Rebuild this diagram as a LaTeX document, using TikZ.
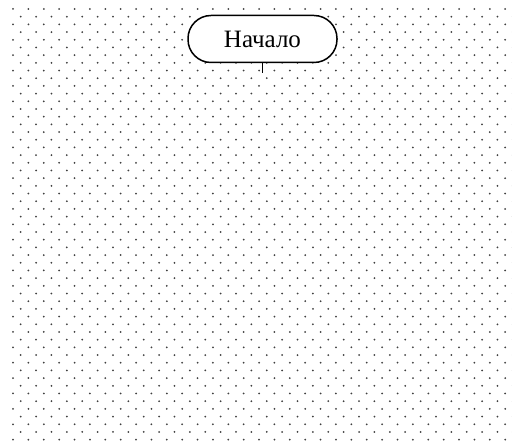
\documentclass[tikz,border=0pt]{standalone}
\usepackage{fontspec}
\setmainfont{Liberation Serif}

\begin{document}
\begin{tikzpicture}[x=1pt, y=-1pt, every node/.style={font=\fontsize{25}{29}\selectfont}]
    \tikzset{griddot/.style={fill=black!75},
      terminal/.style={draw,line width=1.5pt,rounded corners=23pt,minimum width=149pt,minimum height=47pt,inner sep=0pt,fill=white}}
    \useasboundingbox (0,0) rectangle (512,443);
    \fill[white] (0,0) rectangle (512,443);
    \foreach \j in {0,...,56}
      \foreach \i in {0,...,32}
        \fill[griddot] ({13+15.38*\i+7.69*mod(\j,2)}, {9+7.69*\j}) circle (1);
    \node[terminal] (start) at (262.5,39) {Начало};
    \coordinate (next) at (start.south |- 0,73);
    \draw[line width=1.2pt] (start) -- (next);
  \end{tikzpicture}
\end{document}
